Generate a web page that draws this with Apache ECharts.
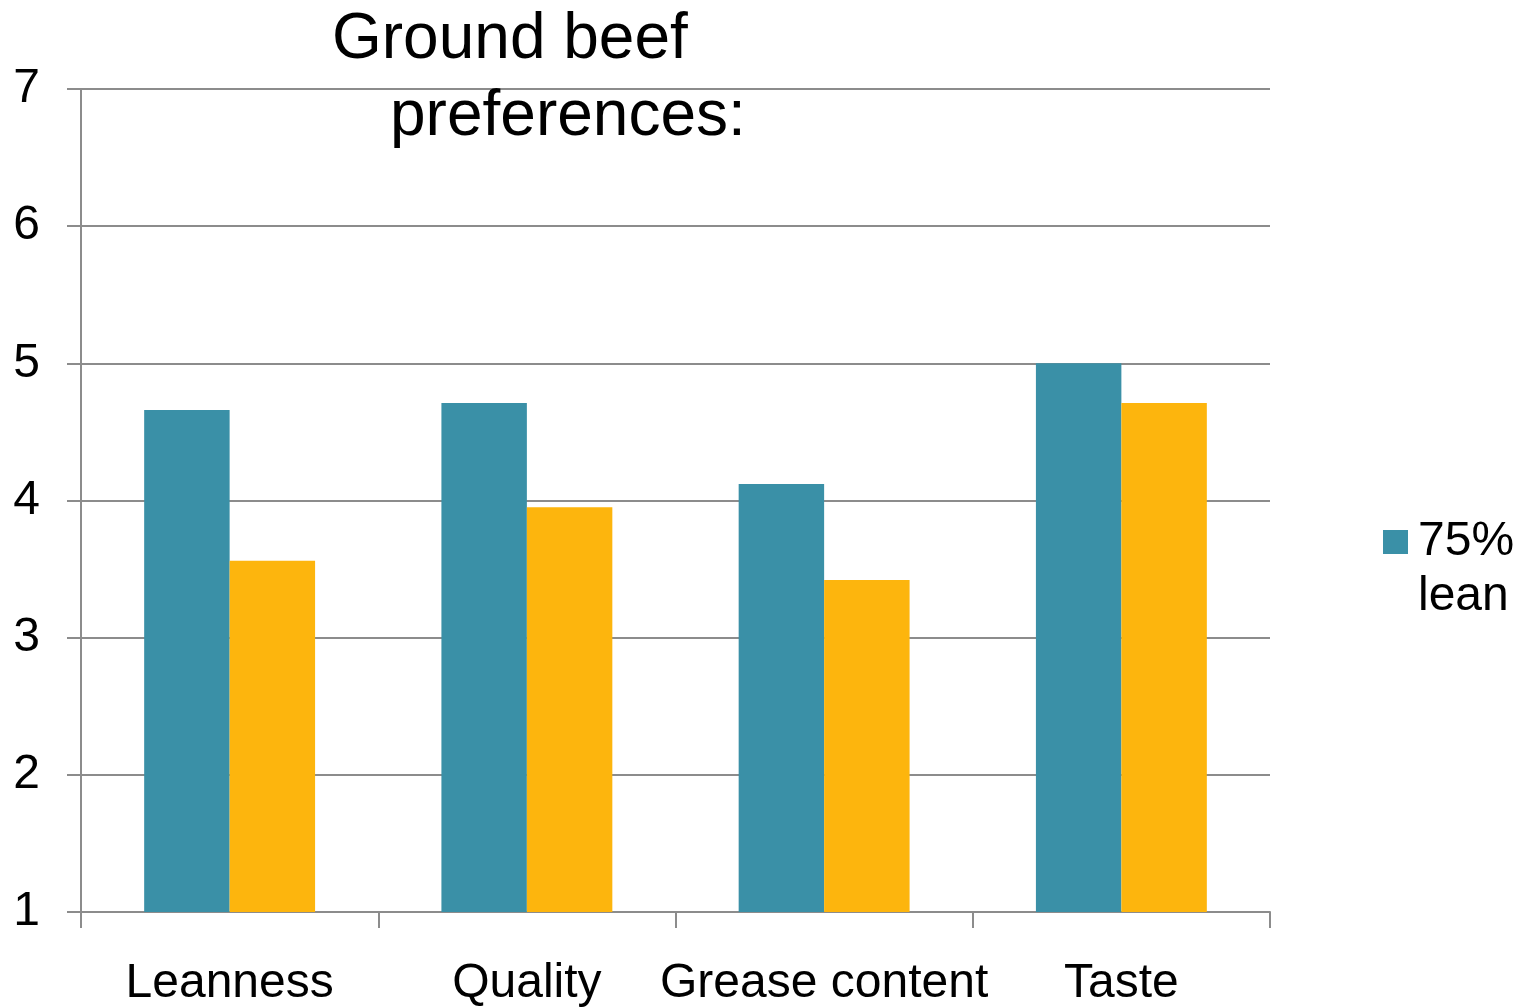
<!DOCTYPE html>
<html>
<head>
	<meta charset="utf-8" />
	<title>Ground beef preferences</title>
	<style type="text/css">
		html, body {
			margin: 0;
			padding: 0;
			background: #fff;
		}

		#main {
			width: 1526px;
			height: 1008px;
		}
	</style>
	<script src="https://cdn.jsdelivr.net/npm/echarts@6.0.0/dist/echarts.min.js"></script>
</head>
<body>

	<div id="main"></div>

	<script type="text/javascript">

		const categories = ['Leanness', 'Quality', 'Grease content', 'Taste'];
		const lean75 = [4.66, 4.71, 4.12, 5.0];
		const other = [3.56, 3.95, 3.42, 4.71];
		const yTicks = [1, 2, 3, 4, 5, 6, 7];

		const font = 'Liberation Sans, Arial, Helvetica, sans-serif';
		const gray = '#8c8c8c';

		const options = {
			animation: false,
			title: [
				{
					text: 'Ground beef',
					left: 332,
					top: 8,
					padding: 0,
					textStyle: { fontFamily: font, fontSize: 64, fontWeight: 'normal', color: '#000' }
				},
				{
					text: 'preferences:',
					left: 390,
					top: 85,
					padding: 0,
					textStyle: { fontFamily: font, fontSize: 64, fontWeight: 'normal', color: '#000' }
				}
			],
			grid: {
				left: 81,
				right: 256,
				top: 89,
				bottom: 95,
				containLabel: false
			},
			legend: {
				data: ['75% lean'],
				orient: 'vertical',
				left: 1383,
				top: 463,
				itemWidth: 25,
				itemHeight: 24,
				itemGap: 0,
				padding: 0,
				icon: 'rect',
				// blank first line keeps the square level with "75%"
				formatter: function (name) {
					const parts = name.split(' ');
					return '{e| }\n{a|' + parts[0] + '}\n{a|' + parts[1] + '}';
				},
				textStyle: {
					fontFamily: font,
					fontSize: 48,
					color: '#000',
					rich: {
						e: { fontFamily: font, fontSize: 48, lineHeight: 55 },
						a: { fontFamily: font, fontSize: 48, lineHeight: 55, color: '#000', padding: [0, 0, 0, 5] }
					}
				}
			},
			xAxis: {
				type: 'category',
				data: categories,
				boundaryGap: true,
				axisLine: { lineStyle: { color: gray, width: 2 } },
				axisTick: { show: true, length: 16, lineStyle: { color: gray, width: 2 } },
				axisLabel: { fontFamily: font, fontSize: 48, color: '#000', margin: 48, interval: 0 }
			},
			yAxis: {
				type: 'value',
				min: yTicks[0],
				max: yTicks[yTicks.length - 1],
				interval: 1,
				axisLine: { show: true, lineStyle: { color: gray, width: 2 } },
				axisTick: { show: true, length: 14, lineStyle: { color: gray, width: 2 } },
				axisLabel: { fontFamily: font, fontSize: 48, color: '#000', margin: 41 },
				splitLine: { show: true, lineStyle: { color: gray, width: 2 } }
			},
			series: [
				{
					name: '75% lean',
					type: 'bar',
					data: lean75,
					barGap: '0%',
					barCategoryGap: '42.5%',
					itemStyle: { color: '#3a90a7' }
				},
				{
					name: 'Series 2',
					type: 'bar',
					data: other,
					barGap: '0%',
					barCategoryGap: '42.5%',
					itemStyle: { color: '#fdb50d' }
				}
			]
		};

		const myChart = echarts.init(document.getElementById('main'));
		myChart.setOption(options);

	</script>
</body>
</html>
